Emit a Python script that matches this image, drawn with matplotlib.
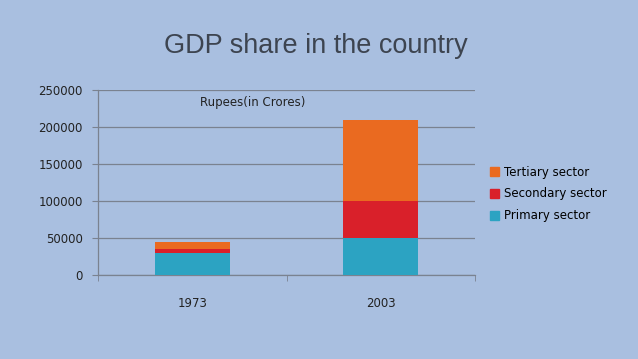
import matplotlib
matplotlib.use("Agg")
import matplotlib.pyplot as plt
import numpy as np
from matplotlib.patches import Patch

years = ["1973", "2003"]
primary = [30000, 50000]
secondary = [5000, 50000]
tertiary = [10000, 110000]

bg = "#a9bfe0"
c_primary = "#2ca3c2"
c_secondary = "#d9202a"
c_tertiary = "#ea6a20"
grid_col = "#7a8290"

fig = plt.figure(figsize=(6.38, 3.59), dpi=100)
fig.patch.set_facecolor(bg)
ax = fig.add_axes([98 / 638, 1 - 275 / 359, 377 / 638, 185 / 359])
ax.set_facecolor(bg)

x = np.arange(len(years))
w = 0.4
b1 = np.array(primary)
b2 = b1 + np.array(secondary)
ax.bar(x, primary, w, color=c_primary, zorder=3)
ax.bar(x, secondary, w, bottom=b1, color=c_secondary, zorder=3)
ax.bar(x, tertiary, w, bottom=b2, color=c_tertiary, zorder=3)

ax.set_xlim(-0.5, 1.5)
ax.set_ylim(0, 250000)
ax.set_yticks(np.arange(0, 250001, 50000))
ax.set_yticklabels([str(v) for v in range(0, 250001, 50000)],
                   fontsize=8.5, color="#222222")
ax.yaxis.grid(True, color=grid_col, linewidth=0.9, zorder=0)
ax.tick_params(axis="y", length=4, color=grid_col, pad=7)

ax.set_xticks(x)
ax.set_xticklabels(years, fontsize=8.5, color="#222222")
ax.tick_params(axis="x", which="major", length=0, pad=16)
ax.set_xticks([-0.5, 0.5, 1.5], minor=True)
ax.tick_params(axis="x", which="minor", length=4, color=grid_col)

for s in ["top", "right"]:
    ax.spines[s].set_visible(False)
for s in ["left", "bottom"]:
    ax.spines[s].set_color(grid_col)
    ax.spines[s].set_linewidth(0.9)

ax.text(0.27, 0.935, "Rupees(in Crores)", transform=ax.transAxes,
        fontsize=8.5, color="#222222", va="center")

fig.text(316 / 638, 1 - 46 / 359, "GDP share in the country",
         fontsize=19.5, color="#3d4450", ha="center", va="center",
         family="Liberation Sans")

handles = [Patch(color=c_tertiary), Patch(color=c_secondary), Patch(color=c_primary)]
labels = ["Tertiary sector", "Secondary sector", "Primary sector"]
fig.legend(handles, labels, loc="center left",
           bbox_to_anchor=(479 / 638, 1 - 194 / 359), frameon=False,
           fontsize=8.5, handlelength=0.8, handleheight=0.8,
           handletextpad=0.4, labelspacing=0.75)

fig.savefig("out.png", dpi=100, facecolor=bg)
